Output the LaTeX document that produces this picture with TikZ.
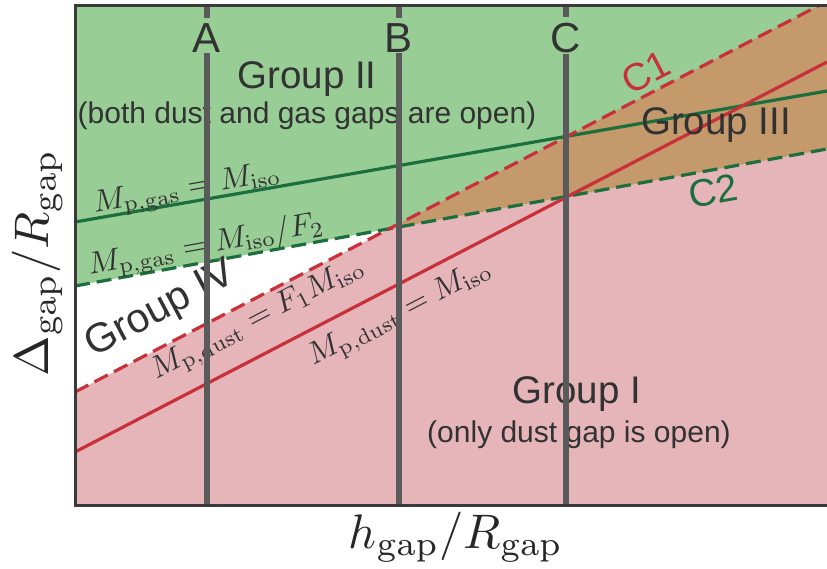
\documentclass[tikz,border=0pt]{standalone}
\usepackage[no-math]{fontspec}
\newfontfamily\sansfnt{Liberation Sans}
\usepackage{graphicx}
\usepackage{xcolor}
\usepackage{tikz}

\definecolor{grpgreen}{RGB}{152,206,150}
\definecolor{grppink}{RGB}{230,181,186}
\definecolor{grpbrown}{RGB}{196,153,108}
\definecolor{gasline}{RGB}{28,110,60}
\definecolor{dustline}{RGB}{200,48,58}
\definecolor{vgray}{RGB}{90,90,90}
\definecolor{framegray}{RGB}{58,58,58}
\definecolor{txtgray}{RGB}{50,50,50}

\newcommand{\masstxt}[1]{\scalebox{3.1}{$#1$}}
\newcommand{\axistxt}[1]{\scalebox{4.85}{$#1$}}

\begin{document}
\begin{tikzpicture}[
  x=1pt, y=-1pt,
  grouplab/.style={font=\sansfnt\fontsize{38.5}{40}\selectfont, text=txtgray, inner sep=0pt, anchor=base},
  notelab/.style={font=\sansfnt\fontsize{30}{32}\selectfont, text=txtgray, inner sep=0pt, anchor=base},
  cutlab/.style={font=\sansfnt\fontsize{42}{44}\selectfont, text=txtgray, inner sep=0pt, anchor=base},
  masslab/.style={text=txtgray, inner sep=0pt},
  axislab/.style={text=black!85, inner sep=0pt},
  gas/.style={gasline, line width=3.2pt},
  dust/.style={dustline, line width=3.2pt},
  crit/.style={dash pattern=on 15pt off 7pt},
  vline/.style={vgray, line width=6.5pt}
]
\useasboundingbox (0,0) rectangle (827,569);
\coordinate (tl) at (75,6);
\coordinate (tr) at (827,6);
\coordinate (bl) at (75,505);
\coordinate (br) at (827,505);
\coordinate (gasL) at (75,222);
\coordinate (gasR) at (827,91);
\coordinate (gasdL) at (75,286);
\coordinate (gasdR) at (827,149);
\coordinate (dustdL) at (75,392);
\coordinate (dustdR) at (818,6);
\coordinate (dustL) at (75,452);
\coordinate (dustR) at (827,62);
\coordinate (X) at (intersection of gasdL--gasdR and dustdL--dustdR);

\fill[grpgreen] (tl) rectangle (br);
\fill[grppink] (bl) -- (dustdL) -- (X) -- (gasdR) -- (br) -- cycle;
\fill[grpbrown] (X) -- (dustdR) -- (tr) -- (gasdR) -- cycle;
\fill[white] (gasdL) -- (X) -- (dustdL) -- cycle;

\draw[gas] (gasL) -- (gasR);
\draw[gas, crit] (gasdL) -- (gasdR);
\draw[dust, crit] (dustdL) -- (dustdR);
\draw[dust] (dustL) -- (dustR);

\node[grouplab] (g2) at (307,89) {Group II};
\node[notelab] (g2note) at (307,124) {(both dust and gas gaps are open)};
\node[grouplab] (g1) at (577,403) {Group I};
\node[notelab] (g1note) at (579,442) {(only dust gap is open)};
\node[grouplab] (g3) at (716,135) {Group III};
\node[grouplab, anchor=center, rotate=28, font=\sansfnt\fontsize{41}{43}\selectfont] (g4) at (161,310) {Group IV};
\node[grouplab, anchor=center, rotate=27.4, text=dustline] (c1) at (646,72) {C1};
\node[grouplab, anchor=center, rotate=10, text=gasline] (c2) at (713,191) {C2};

\node[masslab, rotate=9.9] (mgas) at (187,190) {\masstxt{M_{\mathrm{p,gas}} = M_{\mathrm{iso}}}};
\node[masslab, rotate=10.3] (mgasd) at (206,246) {\masstxt{M_{\mathrm{p,gas}} = M_{\mathrm{iso}}/F_2}};
\node[masslab, rotate=27.4] (mdustd) at (258,320) {\masstxt{M_{\mathrm{p,dust}} = F_1 M_{\mathrm{iso}}}};
\node[masslab, rotate=27.4] (mdust) at (400,314) {\masstxt{M_{\mathrm{p,dust}} = M_{\mathrm{iso}}}};

\node[cutlab] (A) at (207,53) {A};
\node[cutlab] (B) at (399,53) {B};
\node[cutlab] (C) at (566,53) {C};
\coordinate (Atop) at (207,6);
\coordinate (Abot) at (207,505);
\coordinate (Btop) at (399,6);
\coordinate (Bbot) at (399,505);
\coordinate (Ctop) at (566,6);
\coordinate (Cbot) at (566,505);
\draw[vline, shorten >=6pt] (Atop) -- (A.north);
\draw[vline] (A.south) -- (Abot);
\draw[vline, shorten >=6pt] (Btop) -- (B.north);
\draw[vline] (B.south) -- (Bbot);
\draw[vline, shorten >=6pt] (Ctop) -- (C.north);
\draw[vline] (C.south) -- (Cbot);

\draw[framegray, line width=3pt] (tr) -- (tl) -- (bl) -- (br);

\node[axislab] (xlab) at (456,537) {\axistxt{h_{\mathrm{gap}}/R_{\mathrm{gap}}}};
\node[axislab, rotate=90] (ylab) at (37,263) {\axistxt{\Delta_{\mathrm{gap}}/R_{\mathrm{gap}}}};
\end{tikzpicture}
\end{document}
